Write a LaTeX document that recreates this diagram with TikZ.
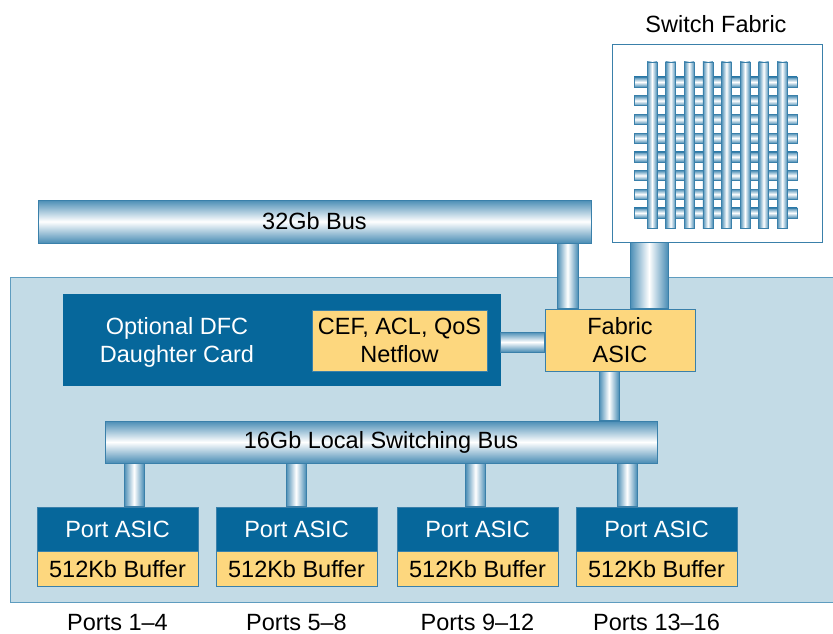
\documentclass[tikz,border=0pt]{standalone}
\usepackage{fontspec}
\setmainfont{Liberation Sans}
\usetikzlibrary{positioning}

\definecolor{boardblue}{HTML}{C3DBE6}
\definecolor{boardedge}{HTML}{5E9CBF}
\definecolor{cardblue}{HTML}{06679B}
\definecolor{asicyellow}{HTML}{FDD77E}
\definecolor{pipeblue}{HTML}{4A8DB5}
\definecolor{pipeedge}{HTML}{3A80AA}

\tikzset{
  lbl/.style={font=\fontsize{23.5}{28}\selectfont},
  hpipe/.style={draw=pipeedge, line width=0.8pt, top color=pipeblue, bottom color=pipeblue, middle color=white},
  vpipe/.style={draw=pipeedge, line width=0.8pt, left color=pipeblue, right color=pipeblue, middle color=white},
  hbar/.style={hpipe, line width=0.5pt},
  vbar/.style={vpipe, line width=0.5pt},
  busbox/.style={hpipe, lbl, minimum height=43pt, inner sep=0pt},
  chipbox/.style={draw=pipeedge, fill=asicyellow, lbl, align=center, inner sep=0pt},
  portbox/.style={draw=pipeedge, fill=cardblue, text=white, lbl, minimum width=161pt, minimum height=44pt, inner sep=0pt},
  bufbox/.style={chipbox, minimum width=161pt, minimum height=35pt},
}

\begin{document}
\begin{tikzpicture}[x=1pt, y=-1pt]
\useasboundingbox (0,0) rectangle (833,634);

% --- Line card ---
\draw[draw=boardedge, fill=boardblue, line width=0.8pt] (10,277) rectangle (845,602);

% --- Switch Fabric ---
\node[lbl, anchor=base] (sftitle) at (716,33) {Switch Fabric};
\node[draw=pipeedge, fill=white, line width=0.8pt, minimum width=210pt, minimum height=198pt] (sfab) at (717,143) {};
\foreach \i in {0,...,7}
  \path[hbar] (634,82+18.7*\i-5) rectangle (797,82+18.7*\i+5);
\foreach \i in {0,...,7}
  \path[vbar] (652+18.6*\i-5,62) rectangle (652+18.6*\i+5,228);

% --- Buses and chips ---
\node[busbox, minimum width=553pt] (bus32) at (314.5,221.5) {32Gb Bus};
\node[draw=cardblue, fill=cardblue, minimum width=437pt, minimum height=91pt] (dfc) at (281.5,339.5) {};
\node[lbl, text=white, align=center] (dfctext) at (177,342) {Optional DFC\\Daughter Card};
\node[chipbox, minimum width=175pt, minimum height=61pt] (feat) at (399.5,340.5) {CEF, ACL, QoS\\Netflow};
\node[chipbox, minimum width=150pt, minimum height=62pt] (fasic) at (620,340) {Fabric\\ASIC};
\node[busbox, minimum width=552pt, minimum height=42pt] (bus16) at (381,442) {16Gb Local Switching Bus};

% --- Port ASICs ---
\foreach \n/\px/\rng in {1/117.5/1--4, 2/296.5/5--8, 3/477.5/9--12, 4/656.5/13--16}{
  \node[portbox] (port\n) at (\px,529) {Port ASIC};
  \node[bufbox, below=0pt of port\n] (buf\n) {512Kb Buffer};
  \node[lbl, anchor=base, inner sep=1pt] (plabel\n) at (\px,630) {Ports \rng};
}

% --- Pipes ---
\path[vpipe] (557,0 |- bus32.south) rectangle (578,0 |- fasic.north);
\path[vpipe] (630,0 |- sfab.south) rectangle (668,0 |- fasic.north);
\path[hpipe] (dfc.east |- 0,332) rectangle (fasic.west |- 0,352);
\path[vpipe] (599,0 |- fasic.south) rectangle (619,0 |- bus16.north);
\foreach \n/\px in {1/134, 2/296, 3/475.5, 4/627}
  \path[vpipe] (\px-10,0 |- bus16.south) rectangle (\px+10,0 |- port\n.north);

\end{tikzpicture}
\end{document}
